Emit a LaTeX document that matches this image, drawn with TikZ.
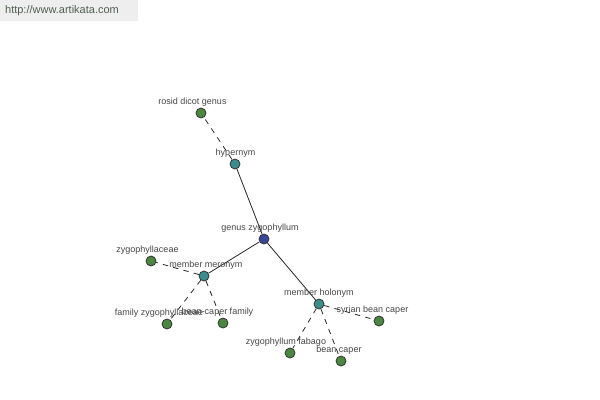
\documentclass[tikz,border=0pt]{standalone}
\usepackage{fontspec}
\setmainfont{Liberation Sans}
\definecolor{hoja}{RGB}{75,135,65}
\definecolor{rel}{RGB}{60,140,140}
\definecolor{raiz}{RGB}{60,70,150}
\definecolor{texto}{RGB}{70,70,70}
\definecolor{cabecera}{RGB}{238,238,238}
\definecolor{enlace}{RGB}{80,95,80}
\tikzset{
  punto/.style={circle,draw=black!80,line width=0.6pt,inner sep=0pt,minimum size=7.5pt},
  etiq/.style={inner sep=0.5pt,text=texto,font=\fontsize{6.75pt}{7pt}\selectfont},
  rama/.style={line width=0.6pt,black!85},
  rota/.style={rama,dash pattern=on 4pt off 4pt}
}
\begin{document}
\begin{tikzpicture}[x=0.75pt,y=-0.75pt]
            \useasboundingbox (0,0) rectangle (600,400);
            % Cabecera
            \fill[cabecera] (0,0) rectangle (138,21);
            \node[inner sep=0pt,text=enlace,font=\fontsize{8.25pt}{9pt}\selectfont] (web) at (62,11) {http://www.artikata.com};

            % Puntos
            \node[punto,fill=raiz] (genus) at (264,239) {};
            \node[punto,fill=rel] (hyper) at (235,164) {};
            \node[punto,fill=hoja] (rosid) at (201,113) {};
            \node[punto,fill=rel] (mero) at (204,276) {};
            \node[punto,fill=hoja] (zygo) at (151,261) {};
            \node[punto,fill=hoja] (famzygo) at (167,324) {};
            \node[punto,fill=hoja] (beanfam) at (223,323) {};
            \node[punto,fill=rel] (holo) at (319,304) {};
            \node[punto,fill=hoja] (syrian) at (379,321) {};
            \node[punto,fill=hoja] (fabago) at (290,353) {};
            \node[punto,fill=hoja] (caper) at (341,361) {};

            % Líneas
            \draw[rama] (genus) -- (hyper);
            \draw[rama] (genus) -- (mero);
            \draw[rama] (genus) -- (holo);
            \draw[rota] (hyper) -- (rosid);
            \draw[rota] (mero) -- (zygo);
            \draw[rota] (mero) -- (famzygo);
            \draw[rota] (mero) -- (beanfam);
            \draw[rota] (holo) -- (syrian);
            \draw[rota] (holo) -- (fabago);
            \draw[rota] (holo) -- (caper);

            % Etiquetas
            \node[etiq] (genusL) at (260,228) {genus zygophyllum};
            \node[etiq] (hyperL) at (235.5,153) {hypernym};
            \node[etiq] (rosidL) at (192.5,102) {rosid dicot genus};
            \node[etiq] (meroL) at (206,265) {member meronym};
            \node[etiq] (zygoL) at (147.5,250) {zygophyllaceae};
            \node[etiq] (famzygoL) at (159,313) {family zygophyllaceae};
            \node[etiq] (beanfamL) at (217.5,312) {bean-caper family};
            \node[etiq] (holoL) at (319,293) {member holonym};
            \node[etiq] (syrianL) at (372.5,310) {syrian bean caper};
            \node[etiq] (fabagoL) at (286,342) {zygophyllum fabago};
            \node[etiq] (caperL) at (339,350) {bean caper};
        \end{tikzpicture}
\end{document}
